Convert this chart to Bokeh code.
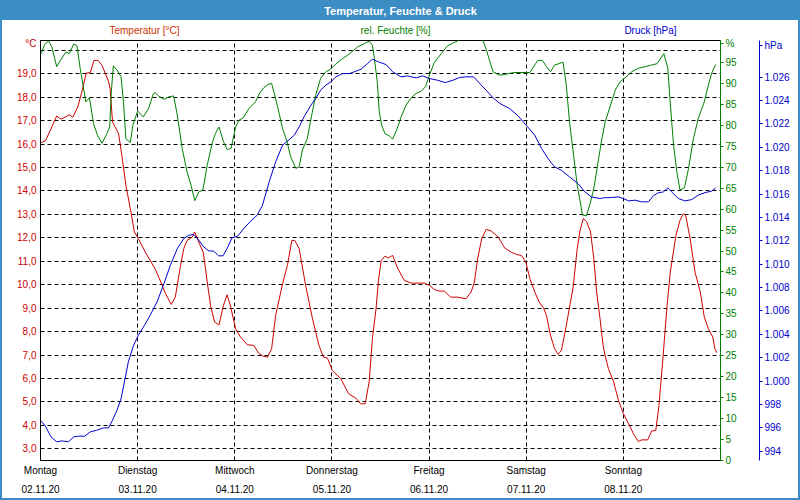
from bokeh.plotting import figure
from bokeh.models import Range1d, LinearAxis, FixedTicker, Label
from bokeh.layouts import column
from bokeh.embed import file_html
from bokeh.resources import INLINE

# ---------------- data ----------------
day_hours = [0, 24, 48, 72, 96, 120, 144]
day_names = ["Montag", "Dienstag", "Mittwoch", "Donnerstag", "Freitag", "Samstag", "Sonntag"]
day_dates = ["02.11.20", "03.11.20", "04.11.20", "05.11.20", "06.11.20", "07.11.20", "08.11.20"]

temp_ticks = list(range(3, 20))
hum_ticks = list(range(0, 100, 5))
press_ticks = list(range(994, 1027, 2))

chart_title = "Temperatur, Feuchte & Druck"
series_names = ["Temperatur [°C]", "rel. Feuchte [%]", "Druck [hPa]"]
unit_names = ["°C", "%", "hPa"]

temp_hours = [0.2, 1.3, 4.0, 5.1, 7.1, 8.0, 9.2, 10.2, 11.3, 12.3, 13.2, 14.2, 15.2, 16.8, 17.2, 17.8,
              19.3, 20.1, 21.1, 22.2, 23.2, 24.2, 25.9, 28.3, 29.2, 30.9, 32.3, 33.3, 34.6, 35.4, 36.2,
              37.5, 38.1, 39.1, 40.2, 41.2, 42.0, 43.0, 44.1, 45.2, 46.1, 46.9, 48.2, 49.4, 51.1, 52.7,
              53.9, 55.0, 56.1, 57.1, 58.1, 59.8, 61.0, 62.1, 62.8, 63.9, 65.5, 67.2, 68.8, 69.9, 70.9,
              72.1, 74.2, 76.1, 77.9, 79.1, 80.2, 81.2, 82.0, 82.9, 83.5, 84.2, 85.1, 85.9, 87.0, 88.3,
              89.9, 91.6, 94.9, 96.1, 97.3, 98.4, 99.8, 101.3, 103.1, 105.1, 106.4, 107.2, 108.0, 109.0,
              110.1, 111.3, 113.1, 114.7, 116.3, 117.6, 118.8, 119.9, 120.9, 122.1, 123.2, 124.3, 125.0,
              126.0, 127.0, 127.9, 128.7, 129.9, 131.6, 132.6, 133.3, 134.1, 134.9, 135.9, 136.7, 137.4,
              138.2, 139.0, 139.5, 140.3, 141.6, 142.8, 144.0, 145.3, 146.5, 147.7, 148.5, 150.0, 151.0,
              152.0, 152.8, 153.7, 154.8, 155.6, 157.0, 158.0, 158.8, 159.4, 160.5, 161.7, 163.0, 164.0,
              165.0, 166.1, 166.6, 167.1]
temp_values = [16.06, 16.16, 17.2, 17.06, 17.25, 17.15, 17.58, 18.22, 19.03, 19.05, 19.57, 19.57, 19.36,
               18.68, 18.36, 16.94, 16.44, 15.52, 14.24, 13.24, 12.25, 11.96, 11.39, 10.68, 10.33, 9.62,
               9.16, 9.47, 10.82, 11.54, 11.89, 12.03, 12.25, 11.82, 11.39, 10.11, 9.12, 8.41, 8.29, 9.12,
               9.57, 9.12, 8.12, 7.77, 7.44, 7.41, 7.08, 6.95, 6.91, 7.27, 8.69, 10.04, 10.82, 11.89,
               11.89, 11.54, 9.97, 8.55, 7.41, 6.91, 6.87, 6.34, 5.99, 5.35, 5.16, 4.92, 4.92, 5.85, 7.70,
               8.98, 10.2, 11.04, 11.22, 11.14, 11.25, 10.68, 10.18, 10.07, 10.07, 9.97, 9.80, 9.73, 9.73,
               9.47, 9.47, 9.40, 9.69, 10.11, 11.11, 11.96, 12.36, 12.30, 12.03, 11.56, 11.39, 11.29,
               11.25, 10.97, 10.26, 9.69, 9.26, 9.00, 8.69, 7.84, 7.27, 7.03, 7.20, 8.26, 9.90, 11.54,
               12.32, 12.82, 12.70, 12.25, 11.11, 9.69, 8.6, 7.4, 6.98, 6.42, 5.85, 5.06, 4.50, 4.07,
               3.64, 3.31, 3.38, 3.38, 3.76, 3.78, 4.85, 6.70, 9.12, 10.54, 12.11, 12.75, 13.03, 12.96,
               11.96, 10.54, 9.69, 8.62, 8.12, 7.77, 7.27, 7.10]

hum_hours = [0.2, 1.0, 2.0, 2.8, 4.0, 5.1, 6.3, 7.1, 8.2, 9.0, 9.8, 10.5, 11.2, 12.1, 13.1, 14.1, 15.2,
             16.4, 17.1, 17.5, 18.0, 18.9, 19.9, 20.5, 21.1, 22.2, 22.8, 24.0, 25.4, 26.7, 27.9, 28.3,
             29.2, 30.5, 31.7, 32.9, 33.8, 35.0, 36.2, 37.2, 38.1, 39.1, 40.1, 41.2, 42.4, 43.2, 44.1,
             45.2, 46.1, 47.1, 48.2, 49.0, 50.1, 51.5, 53.1, 54.2, 55.2, 56.1, 57.1, 58.5, 59.8, 60.8,
             61.8, 63.1, 63.9, 64.7, 65.9, 67.0, 68.0, 69.2, 70.5, 71.7, 73.0, 74.6, 76.4, 78.3, 80.0,
             81.2, 82.0, 82.5, 83.2, 83.7, 84.3, 85.1, 86.2, 87.0, 88.1, 89.1, 90.3, 91.6, 92.8, 94.0,
             95.1, 96.1, 97.3, 99.0, 100.6, 102.3, 104.0, 106.0, 108.0, 109.3, 110.2, 110.8, 111.8,
             113.3, 114.7, 116.8, 120.9, 122.1, 122.9, 124.0, 125.0, 126.0, 127.0, 128.1, 129.1, 129.9,
             130.7, 131.7, 132.6, 133.2, 133.9, 134.9, 135.9, 136.7, 137.9, 138.7, 139.5, 140.7, 142.0,
             143.2, 144.4, 146.1, 147.7, 149.4, 151.0, 152.3, 153.1, 154.0, 155.0, 155.5, 156.4, 157.2,
             158.0, 159.1, 160.1, 161.3, 162.5, 164.0, 165.0, 165.8, 166.8]
hum_values = [97.1, 99.3, 100.1, 98.7, 94.0, 95.8, 97.5, 97.1, 99.4, 99.0, 93.6, 89.6, 85.6, 86.6, 80.4,
              77.6, 75.7, 78.0, 79.6, 88.0, 94.2, 93.2, 91.6, 85.6, 76.8, 75.9, 80.0, 83.4, 82.0, 84.0,
              87.6, 87.8, 87.0, 86.2, 86.8, 87.0, 82.4, 74.5, 68.9, 65.7, 62.0, 64.1, 64.5, 70.5, 75.7,
              78.0, 79.6, 76.1, 74.2, 74.5, 79.6, 81.2, 81.8, 84.0, 85.6, 87.8, 89.0, 89.7, 90.0, 84.8,
              79.2, 76.5, 72.5, 69.7, 70.1, 74.1, 76.8, 82.4, 87.2, 91.2, 92.8, 93.4, 94.7, 95.9, 97.1,
              98.7, 99.5, 100.1, 99.1, 95.9, 90.4, 83.2, 80.0, 78.0, 77.5, 76.7, 79.2, 82.0, 84.8, 86.6,
              87.6, 88.1, 89.2, 92.0, 95.0, 97.1, 99.0, 99.8, 100.6, 101.2, 101.0, 100.3, 97.9, 95.9,
              92.8, 92.0, 92.1, 92.6, 92.6, 94.4, 95.5, 95.5, 94.0, 92.8, 94.4, 94.7, 95.1, 89.6, 80.8,
              72.9, 65.7, 62.5, 58.6, 58.4, 61.7, 64.9, 72.1, 76.8, 80.8, 84.4, 88.4, 90.4, 91.3, 92.8,
              93.6, 94.0, 94.4, 94.7, 95.8, 97.1, 93.6, 86.4, 75.3, 68.9, 64.5, 65.1, 69.7, 76.8, 81.6,
              85.6, 89.6, 92.4, 94.5]

press_hours = [0.2, 1.3, 2.6, 4.0, 5.3, 6.9, 8.2, 9.4, 10.9, 12.3, 13.9, 15.6, 16.8, 17.6, 18.9, 19.9,
               20.9, 21.7, 23.0, 24.2, 25.7, 27.1, 28.8, 30.5, 32.1, 33.8, 35.4, 36.6, 37.9, 39.1, 40.3,
               41.6, 42.8, 44.0, 45.1, 46.3, 47.3, 48.7, 50.2, 51.9, 53.5, 54.8, 56.5, 58.1, 59.8, 61.0,
               62.7, 63.9, 65.1, 66.8, 68.0, 69.2, 70.5, 71.7, 73.0, 74.6, 76.3, 77.9, 79.2, 80.8, 82.0,
               83.7, 85.4, 87.0, 89.1, 90.7, 92.8, 94.4, 96.1, 98.1, 100.0, 101.9, 103.5, 105.1, 107.0,
               108.9, 110.1, 111.8, 113.5, 115.9, 118.0, 120.0, 122.1, 123.8, 125.4, 127.0, 128.7, 130.7,
               132.8, 134.5, 136.1, 138.2, 139.1, 141.1, 142.8, 144.0, 145.3, 146.9, 148.5, 150.2, 151.4,
               152.6, 153.9, 155.0, 155.9, 157.6, 159.2, 160.9, 162.5, 164.2, 165.8, 166.8]
press_values = [996.57, 996.09, 995.23, 994.81, 994.89, 994.81, 995.23, 995.29, 995.29, 995.66, 995.80,
                996.0, 996.0, 996.52, 997.51, 998.51, 1000.22, 1001.65, 1003.07, 1003.93, 1004.78,
                1005.64, 1006.78, 1008.35, 1009.92, 1011.34, 1012.20, 1012.48, 1012.54, 1012.06, 1011.49,
                1011.14, 1011.12, 1010.72, 1010.72, 1011.49, 1012.26, 1012.40, 1013.05, 1013.68, 1014.19,
                1015.0, 1017.05, 1018.76, 1020.18, 1020.53, 1021.04, 1021.75, 1022.61, 1023.60, 1024.18,
                1024.89, 1025.32, 1025.60, 1026.03, 1026.31, 1026.31, 1026.51, 1026.68, 1027.17, 1027.54,
                1027.28, 1027.08, 1026.46, 1026.03, 1026.11, 1025.94, 1026.11, 1025.89, 1025.74, 1025.54,
                1025.74, 1025.97, 1026.03, 1026.03, 1025.32, 1024.89, 1024.23, 1023.75, 1023.32, 1022.69,
                1021.89, 1021.04, 1019.90, 1019.04, 1018.33, 1018.04, 1017.47, 1016.90, 1016.19, 1015.76,
                1015.62, 1015.68, 1015.71, 1015.76, 1015.62, 1015.42, 1015.48, 1015.34, 1015.34, 1015.85,
                1016.11, 1016.19, 1016.53, 1016.19, 1015.62, 1015.42, 1015.53, 1015.91, 1016.13, 1016.25,
                1016.53]

# ---------------- style ----------------
FONT = "Liberation Sans"
RED = "#CC0000"
GREEN = "#008000"
BLUE = "#0000CC"
BAR = "#3C8DC4"
TICK_FS = "10px"
W = 796  # inner width (2px border on each side)
TITLE_H = 18


def de_num(v):
    return f"{v:,}".replace(",", ".")


# The header figures get their frames aligned with the main chart's frame
# (screen x 40..720), so their x range is expressed in screen pixels.
HX = Range1d(40, 720)

# ---------------- title bar ----------------
tfig = figure(width=W, height=TITLE_H, x_range=HX, y_range=Range1d(0, TITLE_H),
              toolbar_location=None, output_backend="svg", x_axis_type=None, y_axis_type=None,
              min_border=0, background_fill_color=BAR, border_fill_color=BAR,
              outline_line_color=None)
tfig.add_layout(Label(x=400, y=10, text=chart_title, text_align="center",
                      text_baseline="middle", text_color="white", text_font_style="bold",
                      text_font_size="11px", text_font=FONT))

# ---------------- series names row ----------------
lfig = figure(width=W, height=16, x_range=HX, y_range=Range1d(0, 16),
              toolbar_location=None, output_backend="svg", x_axis_type=None, y_axis_type=None,
              min_border=0, background_fill_color="white", border_fill_color="white",
              outline_line_color=None)
for txt, x, col in zip(series_names, [144, 395, 650], ["#CC3300", GREEN, BLUE]):
    lfig.add_layout(Label(x=x, y=6, text=txt, text_align="center", text_baseline="middle",
                          text_color=col, text_font=FONT, text_font_size=TICK_FS))

# ---------------- main chart ----------------
p = figure(frame_width=680, frame_height=420, x_range=Range1d(0, 168), y_range=Range1d(2.50, 20.42),
           toolbar_location=None, output_backend="svg", min_border_left=38, min_border_right=78,
           min_border_top=4, min_border_bottom=38, background_fill_color="white",
           border_fill_color="white", outline_line_color="black")
p.extra_y_ranges = {"hum": Range1d(0, 100.24), "press": Range1d(993.21, 1029.14)}

# grids
p.xgrid.ticker = FixedTicker(ticks=day_hours[1:])
p.ygrid.ticker = FixedTicker(ticks=temp_ticks + [20])
for g in (p.xgrid[0], p.ygrid[0]):
    g.grid_line_color = "black"
    g.grid_line_dash = "4 3"
    g.grid_line_width = 1

# x axes (day names and dates)
xa1 = p.xaxis[0]
xa1.ticker = FixedTicker(ticks=day_hours)
xa1.major_label_overrides = {h: n for h, n in zip(day_hours, day_names)}
xa2 = LinearAxis(ticker=FixedTicker(ticks=day_hours),
                 major_label_overrides={h: d for h, d in zip(day_hours, day_dates)})
p.add_layout(xa2, "below")
for ax, so in ((xa1, 4), (xa2, 6)):
    ax.axis_line_color = None
    ax.major_tick_line_color = None
    ax.minor_tick_line_color = None
    ax.major_tick_out = 0
    ax.major_tick_in = 0
    ax.minor_tick_out = 0
    ax.major_label_standoff = so
    ax.major_label_text_font = FONT
    ax.major_label_text_font_size = TICK_FS
    ax.major_label_text_color = "black"

# left axis: temperature (unit shown as a label at the top)
T_UNIT_POS = 20.29
ya = p.yaxis[0]
ya.ticker = FixedTicker(ticks=temp_ticks + [T_UNIT_POS])
ya.major_label_overrides = {**{t: f"{t},0" for t in temp_ticks}, T_UNIT_POS: unit_names[0]}
ya.axis_line_color = "black"
ya.major_tick_line_color = None
ya.minor_tick_line_color = None
ya.major_tick_out = 0
ya.major_tick_in = 0
ya.minor_tick_out = 0
ya.major_label_standoff = 4
ya.major_label_text_color = RED
ya.major_label_text_font = FONT
ya.major_label_text_font_size = TICK_FS

# right axis: humidity
H_UNIT_POS = 99.5
ga = LinearAxis(y_range_name="hum", ticker=FixedTicker(ticks=hum_ticks + [H_UNIT_POS]),
                major_label_overrides={H_UNIT_POS: unit_names[1]},
                axis_label=" ", axis_label_standoff=1, axis_label_text_font_size="14px")
# right axis: pressure
P_UNIT_POS = 1028.7
ba = LinearAxis(y_range_name="press", ticker=FixedTicker(ticks=press_ticks + [P_UNIT_POS]),
                major_label_overrides={**{v: de_num(v) for v in press_ticks}, P_UNIT_POS: unit_names[2]})
for ax, col in ((ga, GREEN), (ba, BLUE)):
    ax.axis_line_color = col
    ax.major_tick_line_color = col
    ax.minor_tick_line_color = None
    ax.major_tick_out = 3
    ax.major_tick_in = 0
    ax.minor_tick_out = 0
    ax.major_label_standoff = 2
    ax.major_label_text_color = col
    ax.major_label_text_font = FONT
    ax.major_label_text_font_size = TICK_FS
p.add_layout(ga, "right")
p.add_layout(ba, "right")

# series
p.line(temp_hours, temp_values, line_color=RED, line_width=1)
p.line(hum_hours, hum_values, line_color=GREEN, line_width=1, y_range_name="hum")
p.line(press_hours, press_values, line_color=BLUE, line_width=1, y_range_name="press")

# page background behind the figures: blue behind the title bar, white elsewhere
bg = f"linear-gradient(to bottom, {BAR} 0px, {BAR} {TITLE_H}px, white {TITLE_H}px, white 100%)"
layout = column(tfig, lfig, p, spacing=0,
                styles={"border": f"2px solid {BAR}", "background": bg})

open("out.html", "w").write(file_html(layout, INLINE))
